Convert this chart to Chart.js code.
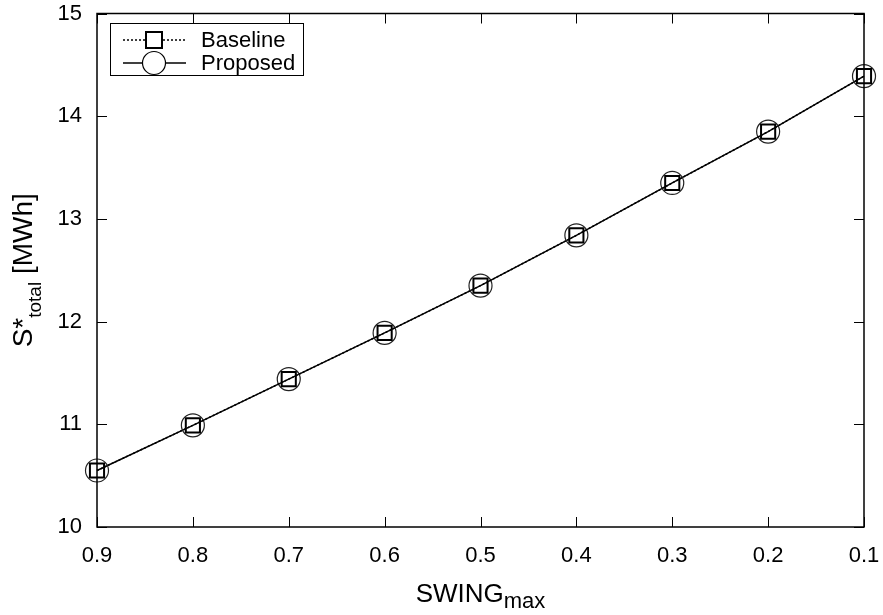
<!DOCTYPE html>
<html>
<head>
<meta charset="utf-8">
<title>S*total vs SWINGmax</title>
<script src="https://cdn.jsdelivr.net/npm/chart.js@4/dist/chart.umd.min.js"></script>
<style>
  html, body { margin: 0; padding: 0; background: #fff; }
  #wrap { width: 883px; height: 615px; }
</style>
</head>
<body>
<div id="wrap"><canvas id="chart" width="883" height="615"></canvas></div>
<script>
// x values (SWING_max), plotted right-to-left
const swingMax = [0.9, 0.8, 0.7, 0.6, 0.5, 0.4, 0.3, 0.2, 0.1];
// total storage S*total in MWh
const baselineTotal = [10.55, 10.99, 11.44, 11.89, 12.35, 12.84, 13.35, 13.85, 14.39];
const proposedTotal = [10.55, 10.99, 11.44, 11.89, 12.35, 12.84, 13.35, 13.85, 14.39];
const seriesNames = ['Baseline', 'Proposed'];
const xTicks = [0.9, 0.8, 0.7, 0.6, 0.5, 0.4, 0.3, 0.2, 0.1];
const yTicks = [10, 11, 12, 13, 14, 15];

const FONT = '"Liberation Sans", Arial, Helvetica, sans-serif';
Chart.defaults.font.family = FONT;
Chart.defaults.color = '#000';

function toPoints(ys) {
    return swingMax.map(function(x, i) { return { x: x, y: ys[i] }; });
}

// box around the plot + inward tick marks on all four sides
const frameTicks = {
    id: 'frameTicks',
    afterDraw(chart) {
        const ctx = chart.ctx;
        const a = chart.chartArea;
        const xs = chart.scales.x, ys = chart.scales.y;
        const len = 10;
        ctx.save();
        ctx.strokeStyle = '#000';
        ctx.lineWidth = 1.5;
        ctx.strokeRect(a.left, a.top, a.right - a.left, a.bottom - a.top);
        ctx.lineWidth = 1;
        ctx.beginPath();
        xTicks.forEach(function(v) {
            const px = Math.round(xs.getPixelForValue(v)) + 0.5;
            ctx.moveTo(px, a.bottom); ctx.lineTo(px, a.bottom - len);
            ctx.moveTo(px, a.top); ctx.lineTo(px, a.top + len);
        });
        yTicks.forEach(function(v) {
            const py = Math.round(ys.getPixelForValue(v)) + 0.5;
            ctx.moveTo(a.left, py); ctx.lineTo(a.left + len, py);
            ctx.moveTo(a.right, py); ctx.lineTo(a.right - len, py);
        });
        ctx.stroke();
        ctx.restore();
    }
};

// axis titles with subscripts
const axisTitles = {
    id: 'axisTitles',
    afterDraw(chart) {
        const ctx = chart.ctx;
        const a = chart.chartArea;
        ctx.save();
        ctx.fillStyle = '#000';
        ctx.textBaseline = 'alphabetic';
        ctx.textAlign = 'left';

        // x: SWING_max
        const big = '26px ' + FONT, small = '22px ' + FONT;
        ctx.font = big; const w1 = ctx.measureText('SWING').width;
        ctx.font = small; const w2 = ctx.measureText('max').width;
        let x0 = (a.left + a.right) / 2 - (w1 + w2) / 2;
        ctx.font = big; ctx.fillText('SWING', x0, 602);
        ctx.font = small; ctx.fillText('max', x0 + w1, 608);

        // y: S*_total [MWh]
        const yb = '28px ' + FONT, ys = '19px ' + FONT;
        ctx.font = yb;
        const s1 = ctx.measureText('S*').width;
        const s3 = ctx.measureText(' [MWh]').width;
        ctx.font = ys;
        const s2 = ctx.measureText('total').width;
        ctx.translate(32, (a.top + a.bottom) / 2);
        ctx.rotate(-Math.PI / 2);
        let t0 = -(s1 + s2 + s3) / 2;
        ctx.font = yb; ctx.fillText('S*', t0, 0);
        ctx.font = ys; ctx.fillText('total', t0 + s1, 9);
        ctx.font = yb; ctx.fillText(' [MWh]', t0 + s1 + s2, 0);
        ctx.restore();
    }
};

// boxed legend, line sample with the marker on it
const boxLegend = {
    id: 'boxLegend',
    afterDraw(chart) {
        const ctx = chart.ctx;
        ctx.save();
        ctx.strokeStyle = '#000';
        ctx.fillStyle = '#fff';
        ctx.lineWidth = 1;
        ctx.fillRect(110.5, 23.5, 193, 52);
        ctx.strokeRect(110.5, 23.5, 193, 52);

        // Baseline: dotted line + square
        ctx.lineWidth = 1.5;
        ctx.setLineDash([2, 2]);
        ctx.beginPath(); ctx.moveTo(123, 40); ctx.lineTo(186, 40); ctx.stroke();
        ctx.setLineDash([]);
        ctx.fillRect(146, 32, 16, 16);
        ctx.lineWidth = 2;
        ctx.strokeRect(146, 32, 16, 16);

        // Proposed: solid line + circle
        ctx.lineWidth = 1.5;
        ctx.beginPath(); ctx.moveTo(123, 63); ctx.lineTo(186, 63); ctx.stroke();
        ctx.lineWidth = 1.2;
        ctx.beginPath(); ctx.arc(154, 63, 11.5, 0, Math.PI * 2);
        ctx.fill(); ctx.stroke();

        ctx.fillStyle = '#000';
        ctx.font = '22px ' + FONT;
        ctx.textBaseline = 'middle';
        ctx.fillText(seriesNames[0], 201, 41);
        ctx.fillText(seriesNames[1], 201, 64);
        ctx.restore();
    }
};

const ctx = document.getElementById('chart').getContext('2d');

const data = {
    datasets: [
        {
            label: seriesNames[0],
            data: toPoints(baselineTotal),
            borderColor: '#000',
            borderWidth: 1.5,
            borderDash: [2, 2],
            pointStyle: 'rect',
            pointRadius: 10,
            pointBorderWidth: 2,
            pointBorderColor: '#000',
            pointBackgroundColor: 'rgba(0,0,0,0)',
            fill: false,
            tension: 0,
            clip: false,
        },
        {
            label: seriesNames[1],
            data: toPoints(proposedTotal),
            borderColor: '#000',
            borderWidth: 1.5,
            pointStyle: 'circle',
            pointRadius: 11.5,
            pointBorderWidth: 1.2,
            pointBorderColor: '#222',
            pointBackgroundColor: 'rgba(0,0,0,0)',
            fill: false,
            tension: 0,
            clip: false,
        },
    ],
};

const config = {
    type: 'line',
    data: data,
    options: {
        responsive: false,
        animation: false,
        layout: {
            autoPadding: false,
            padding: { top: 13.5, right: 19, left: 0, bottom: 0 },
        },
        plugins: {
            legend: { display: false },
            tooltip: { enabled: false },
        },
        scales: {
            x: {
                type: 'linear',
                reverse: true,
                min: 0.1,
                max: 0.9,
                afterBuildTicks: function(scale) {
                    scale.ticks = xTicks.map(function(v) { return { value: v }; });
                },
                // fixed axis height, no extra side padding for the end labels
                afterFit: function(scale) {
                    scale.height = 88;
                    scale.paddingLeft = 0;
                    scale.paddingRight = 0;
                },
                grid: { display: false, drawTicks: false },
                border: { display: false },
                ticks: {
                    color: '#000',
                    font: { size: 22, lineHeight: 1 },
                    padding: 18,
                    maxRotation: 0,
                    callback: function(v) { return Number(v).toFixed(1); },
                },
            },
            y: {
                min: 10,
                max: 15,
                afterBuildTicks: function(scale) {
                    scale.ticks = yTicks.map(function(v) { return { value: v }; });
                },
                afterFit: function(scale) {
                    scale.width = 97;
                    scale.paddingTop = 0;
                    scale.paddingBottom = 0;
                },
                grid: { display: false, drawTicks: false },
                border: { display: false },
                ticks: {
                    color: '#000',
                    font: { size: 22, lineHeight: 1 },
                    padding: 15,
                },
            },
        },
    },
    plugins: [frameTicks, axisTitles, boxLegend],
};

const myChart = new Chart(ctx, config);
</script>
</body>
</html>
